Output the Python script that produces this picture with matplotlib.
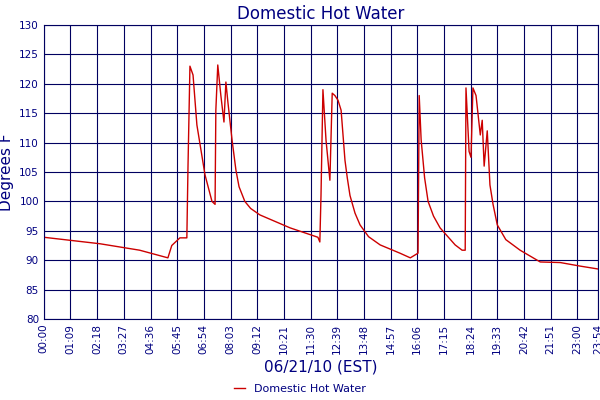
import matplotlib
matplotlib.use("Agg")
import matplotlib.pyplot as plt

times = [0,145,248,321,331,352,370,373,378,386,396,417,435,443,445,450,458,466,471,476,487,497,505,520,535,559,637,709,714,717,722,730,740,746,753,761,769,779,785,792,805,818,840,870,921,948,968,971,976,985,994,1008,1025,1064,1082,1090,1092,1100,1105,1110,1118,1129,1134,1139,1147,1154,1162,1173,1195,1232,1284,1336,1387,1434]
temps = [93.9,92.8,91.7,90.4,92.5,93.8,93.8,106,123,121.5,113,104.5,100,99.5,115.5,123.2,118,113.5,120.3,117,110.4,105.3,102.5,100,98.8,97.7,95.5,93.9,93.1,101,119,110.4,103.6,118.4,118,117.2,115.5,107,104,101,98,96,94,92.6,91.2,90.4,91.2,118,110.5,104,100,97.5,95.5,92.6,91.7,91.7,119.3,108.5,107.5,119.3,118,111.3,113.8,106,112,102.8,99.5,96,93.5,91.7,89.7,89.6,89,88.5]
tick_minutes = [i*69 for i in range(21)] + [1434]
tick_labels = ["%02d:%02d" % (m//60, m%60) for m in tick_minutes]

blue = "#000080"
fig = plt.figure(figsize=(6,4), dpi=100)
ax = fig.add_axes([0.073, 0.2025, 0.924, 0.735])
ax.plot(times, temps, color="#cc0000", lw=1)
ax.set_xlim(0, 1434)
ax.set_ylim(80, 130)
ax.set_xticks(tick_minutes)
ax.set_xticklabels(tick_labels, rotation=90, fontsize=7.5, color=blue)
ax.set_yticks(range(80, 131, 5))
ax.tick_params(axis='y', labelsize=7.5, labelcolor=blue, length=0)
ax.tick_params(axis='x', length=0)
ax.grid(True, color="#000060", lw=0.8)
ax.set_axisbelow(True)
for s in ax.spines.values():
    s.set_color("#000060")
ax.set_title("Domestic Hot Water", color=blue, fontsize=12, pad=4)
ax.set_ylabel("Degrees F", color=blue, fontsize=11)
ax.set_xlabel("06/21/10 (EST)", color=blue, fontsize=11, labelpad=4)
fig.legend(["Domestic Hot Water"], loc="lower center", bbox_to_anchor=(0.5, -0.01),
           frameon=False, fontsize=8, labelcolor=blue, handlelength=1)
fig.savefig("out.png")
